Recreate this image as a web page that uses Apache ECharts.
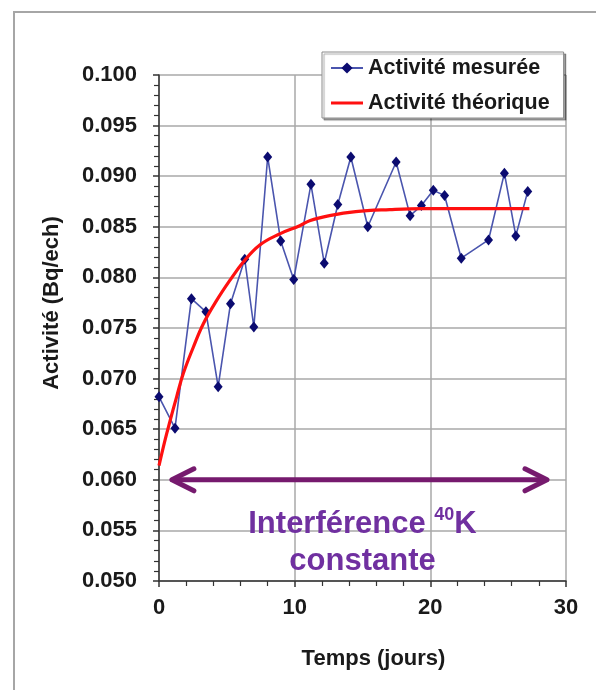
<!DOCTYPE html>
<html>
<head>
<meta charset="utf-8">
<script src="https://cdn.jsdelivr.net/npm/echarts@6/dist/echarts.min.js"></script>
<style>
  html, body { margin: 0; padding: 0; background: #ffffff; }
  #chart { width: 596px; height: 690px; }
</style>
</head>
<body>
<div id="chart"></div>
<script>
// Measured activity of the samples over time (days)
const measuredDays = [0, 1.18, 2.39, 3.46, 4.36, 5.27, 6.32, 6.99, 8.01, 8.97, 9.93, 11.2, 12.18, 13.18, 14.14, 15.39, 17.48, 18.51, 19.34, 20.22, 21.05, 22.28, 24.29, 25.46, 26.3, 27.18];
const measuredActivity = [0.0682, 0.0651, 0.0779, 0.0766, 0.0692, 0.0774, 0.0818, 0.0751, 0.0919, 0.0836, 0.0798, 0.0892, 0.0814, 0.0872, 0.0919, 0.0850, 0.0914, 0.0861, 0.0871, 0.0886, 0.0881, 0.0819, 0.0837, 0.0903, 0.0841, 0.0885];

// Theoretical build-up curve, sampled
const theoryDays = [0, 0.44, 0.81, 1.3, 1.79, 2.53, 3.26, 4.24, 5.22, 6.2, 7.43, 8.9, 10.37, 11.1, 12.57, 14.5, 17.0, 19.4, 21.9, 27.3];
const theoryActivity = [0.0614, 0.0639, 0.0658, 0.0682, 0.0705, 0.0731, 0.0754, 0.0777, 0.0797, 0.0815, 0.0832, 0.0843, 0.0851, 0.0856, 0.0861, 0.0865, 0.0867, 0.0868, 0.0868, 0.0868];

// Axis ranges
const xRange = [0, 30, 10];
const yRange = [0.05, 0.1, 0.005];

// Annotation: constant 40K interference band
const arrowDays = [0.95, 28.6];
const arrowLevel = 0.060;
const noteDay = 15;
const noteLevel = 0.0538;

const FONT = "'Liberation Sans', Arial, sans-serif";
const chart = echarts.init(document.getElementById('chart'), null, { renderer: 'canvas' });

const zip = (xs, ys) => xs.map((x, i) => [x, ys[i]]);

// Plain line legend icon: tiny corner specks fix the 32x14 box, the bar is the line
const lineIcon = 'path://M0,0L0.02,0L0,0.02Z M32,14L31.98,14L32,13.98Z M0,5.5L32,5.5L32,8.5L0,8.5Z';

chart.setOption({
  animation: false,
  backgroundColor: '#ffffff',
  grid: { left: 159, right: 30, top: 75, bottom: 109, containLabel: false },
  legend: {
    orient: 'vertical',
    left: 322,
    top: 52,
    padding: [5, 14, 4, 8],
    itemWidth: 32,
    itemHeight: 14,
    itemGap: 13,
    backgroundColor: '#ffffff',
    borderColor: '#8c8c8c',
    borderWidth: 1,
    shadowColor: 'rgba(0,0,0,0.35)',
    shadowOffsetX: 2,
    shadowOffsetY: 2,
    shadowBlur: 1,
    textStyle: { fontFamily: FONT, fontWeight: 'bold', fontSize: 21.5, color: '#1a1a1a' },
    data: [
      { name: 'Activité mesurée' },
      { name: 'Activité théorique', icon: lineIcon }
    ]
  },
  xAxis: {
    type: 'value',
    min: xRange[0], max: xRange[1], interval: xRange[2],
    name: 'Temps (jours)',
    nameLocation: 'middle',
    nameGap: 67,
    nameTextStyle: { fontFamily: FONT, fontWeight: 'bold', fontSize: 22, color: '#1a1a1a', padding: [0, 0, 0, 22] },
    axisLine: { show: true, onZero: false, lineStyle: { color: '#333333', width: 1.5 } },
    axisTick: { show: true, inside: false, length: 6, lineStyle: { color: '#333333', width: 1.5 } },
    minorTick: { show: true, splitNumber: 5, length: 5, lineStyle: { color: '#333333', width: 1.2 } },
    axisLabel: { fontFamily: FONT, fontWeight: 'bold', fontSize: 22, color: '#1a1a1a', margin: 16 },
    splitLine: { show: true, lineStyle: { color: '#a8a8a8', width: 1.5 } }
  },
  yAxis: {
    type: 'value',
    min: yRange[0], max: yRange[1], interval: yRange[2],
    name: 'Activité (Bq/ech)',
    nameLocation: 'middle',
    nameGap: 96,
    nameRotate: 90,
    nameTextStyle: { fontFamily: FONT, fontWeight: 'bold', fontSize: 22, color: '#1a1a1a', padding: [0, 0, 0, 50] },
    axisLine: { show: true, onZero: false, lineStyle: { color: '#333333', width: 1.5 } },
    axisTick: { show: true, inside: false, length: 6, lineStyle: { color: '#333333', width: 1.5 } },
    minorTick: { show: true, splitNumber: 5, length: 5, lineStyle: { color: '#333333', width: 1.2 } },
    axisLabel: { fontFamily: FONT, fontWeight: 'bold', fontSize: 22, color: '#1a1a1a', margin: 22, formatter: v => v.toFixed(3) },
    splitLine: { show: true, lineStyle: { color: '#a8a8a8', width: 1.5 } }
  },
  series: [
    {
      name: 'Activité mesurée',
      type: 'line',
      data: zip(measuredDays, measuredActivity),
      symbol: 'diamond',
      symbolSize: [9, 11],
      showAllSymbol: true,
      lineStyle: { color: '#4a55ae', width: 1.6 },
      itemStyle: { color: '#0b0b70', borderWidth: 0 },
      z: 3
    },
    {
      name: 'Activité théorique',
      type: 'line',
      data: zip(theoryDays, theoryActivity),
      smooth: 0.4,
      symbol: 'none',
      lineStyle: { color: '#ff1010', width: 3.2 },
      itemStyle: { color: '#ff1010' },
      z: 4
    }
  ]
});

// Frame and annotation drawn in data coordinates
const p = (x, y) => chart.convertToPixel({ gridIndex: 0 }, [x, y]);
const left = p(arrowDays[0], arrowLevel);
const right = p(arrowDays[1], arrowLevel);
const note = p(noteDay, noteLevel);
const headDx = 22, headDy = 11;
const arrowStyle = { stroke: '#761a6e', lineWidth: 5, lineCap: 'round', lineJoin: 'round', fill: null };

chart.setOption({
  graphic: [
    {
      type: 'rect', silent: true, z: -10,
      shape: { x: 14, y: 12, width: 800, height: 800 },
      style: { fill: null, stroke: '#a6a6a6', lineWidth: 2 }
    },
    {
      type: 'line', silent: true, z: 10,
      shape: { x1: left[0] + 2, y1: left[1], x2: right[0] - 2, y2: right[1] },
      style: arrowStyle
    },
    {
      type: 'polyline', silent: true, z: 10,
      shape: { points: [[left[0] + headDx, left[1] - headDy], [left[0], left[1]], [left[0] + headDx, left[1] + headDy]] },
      style: arrowStyle
    },
    {
      type: 'polyline', silent: true, z: 10,
      shape: { points: [[right[0] - headDx, right[1] - headDy], [right[0], right[1]], [right[0] - headDx, right[1] + headDy]] },
      style: arrowStyle
    },
    {
      type: 'text', silent: true, z: 10,
      x: note[0], y: note[1],
      style: {
        text: 'Interférence {sup|40}K\nconstante',
        align: 'center',
        verticalAlign: 'middle',
        fontFamily: FONT,
        fontWeight: 'bold',
        fontSize: 31,
        lineHeight: 37,
        fill: '#7030a0',
        rich: {
          sup: { fontFamily: FONT, fontWeight: 'bold', fontSize: 18, lineHeight: 37, verticalAlign: 'top', padding: [0, 0, 12, 0], fill: '#7030a0' }
        }
      }
    }
  ]
});
</script>
</body>
</html>
